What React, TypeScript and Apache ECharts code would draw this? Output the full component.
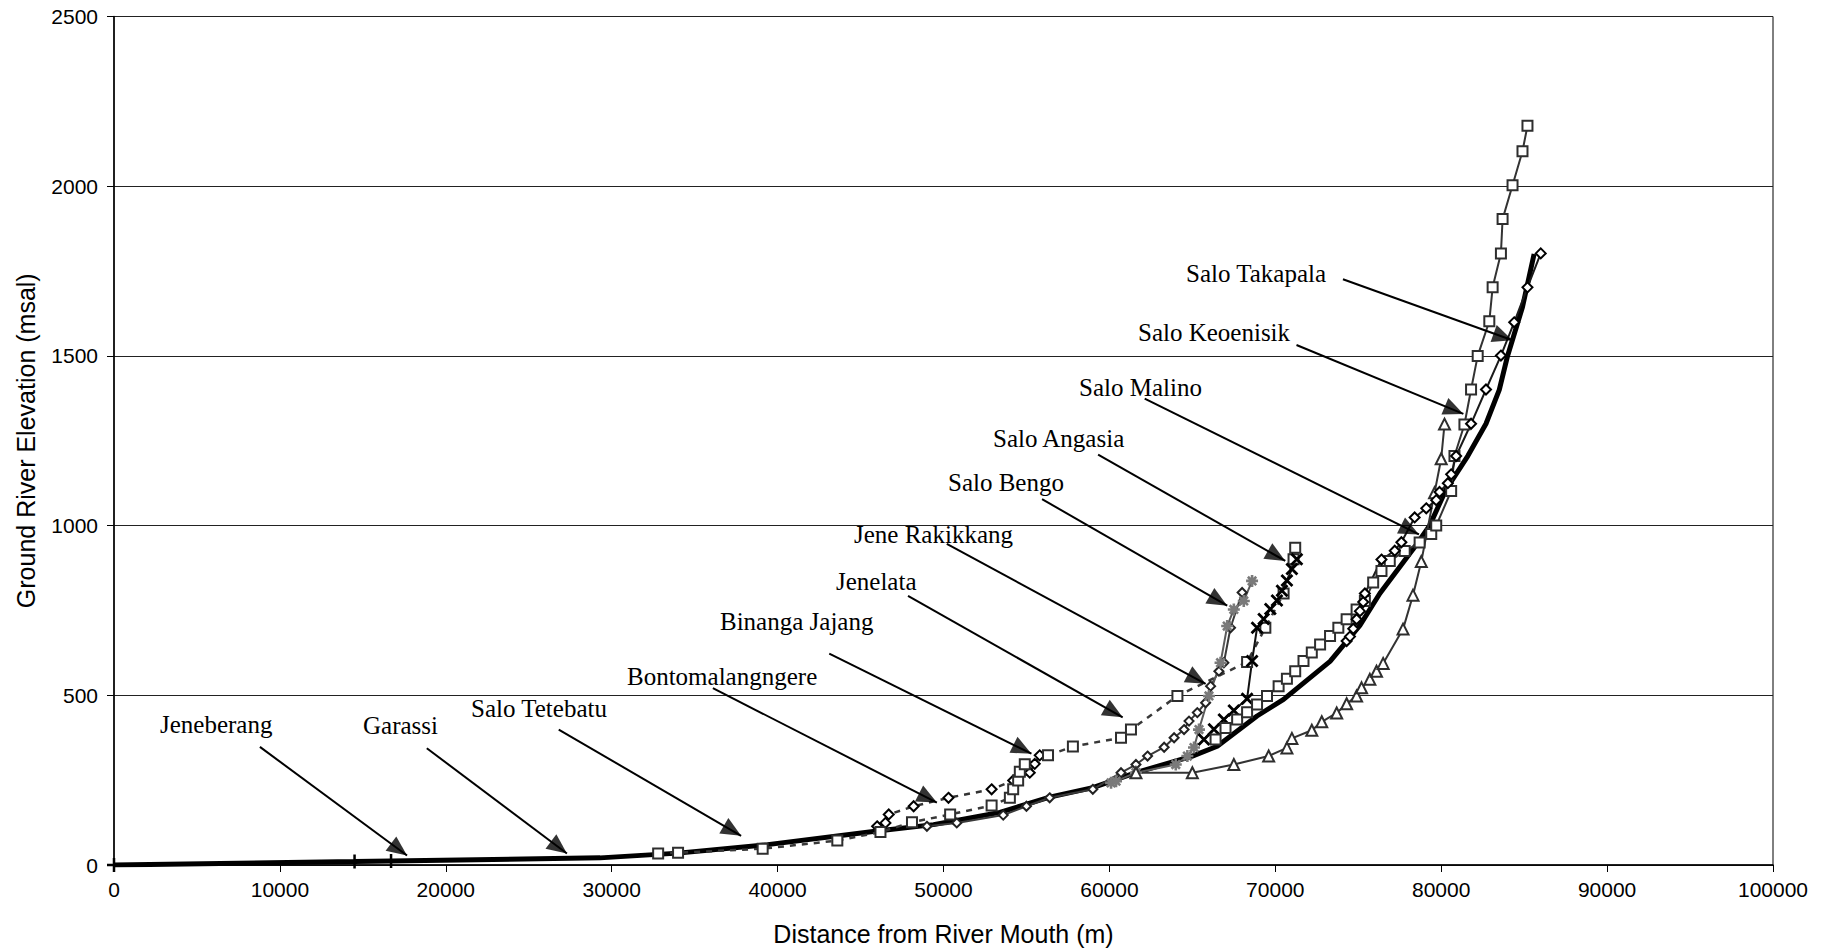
import React, { useEffect, useRef } from "react";
import * as echarts from "echarts";

type P = [number, number];

const xTickValues = [0, 10000, 20000, 30000, 40000, 50000, 60000, 70000, 80000, 90000, 100000];
const yTickValues = [0, 500, 1000, 1500, 2000, 2500];

// Jeneberang (main river) – first points carry "+" markers
const jeneberang: P[] = [
  [0, 0], [14500, 10], [16700, 12], [29300, 21], [34000, 35], [39400, 60], [46000, 100],
  [49400, 119], [53400, 155], [56400, 200], [59000, 228], [61600, 272], [65000, 321],
  [66500, 350], [68900, 439], [70500, 488], [73300, 600], [75100, 706], [76300, 800],
  [78300, 930], [79300, 1000], [80300, 1107], [81600, 1205], [82700, 1300], [83500, 1400],
  [84000, 1500], [84900, 1644], [85600, 1800],
];
const jeneberangMarked = 3;

const bontomalangngere: P[] = [
  [46000, 114], [46500, 124], [46700, 149], [48200, 173], [50300, 198], [52900, 223],
  [54200, 249], [55200, 272], [55500, 298], [55800, 323],
];

const jenelata: P[] = [
  [32800, 34], [34000, 36], [39100, 48], [43600, 72], [46200, 97], [48100, 126], [50400, 149],
  [52900, 175], [54000, 198], [54200, 223], [54500, 249], [54600, 275], [54900, 297],
  [56300, 323], [57800, 349], [60700, 375], [61300, 399], [64100, 498], [68300, 598],
  [69400, 699], [70500, 800], [71100, 901], [71200, 935],
];

const jeneRakikkang: P[] = [
  [49000, 114], [50800, 124], [53600, 147], [55000, 173], [56400, 198], [59000, 223],
  [60700, 272], [61600, 296], [62300, 321], [63300, 347], [63900, 375], [64500, 399],
  [64800, 424], [65300, 449], [65800, 478], [66100, 527], [66600, 571], [66900, 596],
  [67300, 699], [68000, 803],
];

const saloBengo: P[] = [
  [60100, 242], [60400, 247], [61600, 272], [64000, 296], [64700, 321], [65100, 346],
  [65400, 399], [66000, 498], [66700, 596], [67100, 704], [67500, 753], [68100, 778],
  [68600, 837],
];

const saloAngasia: P[] = [
  [65700, 370], [66300, 400], [66900, 429], [67500, 455], [68300, 490], [68600, 601],
  [68900, 699], [69300, 725], [69700, 754], [70100, 779], [70400, 808], [70700, 838],
  [71000, 872], [71300, 901],
];

const saloMalino: P[] = [
  [61600, 272], [65000, 272], [67500, 296], [69600, 321], [70700, 345], [71000, 373],
  [72200, 397], [72800, 422], [73700, 448], [74300, 475], [74900, 498], [75200, 522],
  [75700, 547], [76100, 571], [76500, 594], [77700, 695], [78300, 795], [78800, 894],
  [79600, 1097], [80000, 1197], [80200, 1299],
];

const saloTakapala: P[] = [
  [66400, 370], [67000, 404], [67700, 429], [68300, 450], [68900, 473], [69500, 498],
  [70200, 527], [70700, 549], [71200, 571], [71700, 601], [72200, 626], [72700, 650],
  [73300, 675], [73800, 699], [74300, 724], [74900, 753], [75400, 778], [75900, 832],
  [76400, 866], [76900, 896], [77800, 925], [78700, 950], [79400, 975], [79700, 1000],
  [80600, 1102], [80800, 1205], [81400, 1298], [81800, 1401], [82200, 1500], [82900, 1602],
  [83100, 1702], [83600, 1802], [83700, 1903], [84300, 2003], [84900, 2103], [85200, 2178],
];

const saloKeoenisik: P[] = [
  [74300, 660], [74500, 673], [74700, 696], [74900, 724], [75100, 748], [75300, 775],
  [75400, 800], [76400, 900], [77200, 926], [77600, 951], [78400, 1024], [79100, 1051],
  [79700, 1075], [79900, 1099], [80400, 1125], [80600, 1151], [80900, 1205], [81800, 1300],
  [82700, 1401], [83600, 1501], [84400, 1599], [85200, 1702], [86000, 1802],
];

// annotation labels and arrows (tail -> tip, data units)
const annotationNames = [
  "Salo Takapala", "Salo Keoenisik", "Salo Malino", "Salo Angasia", "Salo Bengo",
  "Jene Rakikkang", "Jenelata", "Binanga Jajang", "Bontomalangngere", "Salo Tetebatu",
  "Garassi", "Jeneberang",
];
const annotationLabelAt: P[] = [
  [1186, 273], [1138, 332], [1079, 387], [993, 438], [948, 482], [854, 534], [836, 581],
  [720, 621], [627, 676], [471, 708], [363, 725], [160, 724],
];
const arrowTails: P[] = [
  [74078, 1726], [71277, 1532], [62127, 1374], [59319, 1209], [55940, 1078], [50200, 946],
  [47860, 793], [43114, 623], [36100, 521], [26807, 399], [18855, 344], [8795, 348],
];
const arrowTips: P[] = [
  [84295, 1546], [81337, 1329], [78657, 974], [70600, 896], [67100, 764], [65800, 534],
  [60800, 435], [55300, 328], [49600, 184], [37800, 86], [27301, 34], [17663, 28],
];

const GRID = { left: 114, top: 16.5, width: 1659, height: 850 };
const X_MAX = 100000;
const Y_MAX = 2500;

const PLUS = "path://M5,0L5,10M0,5L10,5";
const CROSS = "path://M0,0L10,10M10,0L0,10";
const STAR = "path://M5,0L5,10M0,5L10,5M1.5,1.5L8.5,8.5M8.5,1.5L1.5,8.5";

export default function App() {
  const ref = useRef<HTMLDivElement>(null);

  useEffect(() => {
    if (!ref.current) return;
    const chart = echarts.init(ref.current, undefined, { renderer: "svg" });

    const sx = GRID.width / X_MAX;
    const sy = GRID.height / Y_MAX;
    const HEAD_LEN = 20;
    const HEAD_W = 18;
    const arrowLines = arrowTails.map((t, i) => [{ coord: t }, { coord: arrowTips[i] }]);
    const arrowHeads = arrowTails.map((t, i) => {
      const tip = arrowTips[i];
      const dxp = (tip[0] - t[0]) * sx;
      const dyp = (tip[1] - t[1]) * sy;
      const len = Math.hypot(dxp, dyp);
      const back = HEAD_LEN / 2;
      const c: P = [tip[0] - (back * dxp) / len / sx, tip[1] - (back * dyp) / len / sy];
      const phi = (Math.atan2(dyp, dxp) * 180) / Math.PI;
      return { value: c, symbolRotate: phi - 90 };
    });

    const lineSeries = (
      name: string,
      data: any[],
      opts: { color: string; width: number; dashed?: boolean; symbol: string; size: number; border: number; borderColor?: string; z?: number }
    ) => ({
      name,
      type: "line",
      data,
      z: opts.z ?? 3,
      symbol: opts.symbol,
      symbolSize: opts.size,
      showSymbol: true,
      lineStyle: { color: opts.color, width: opts.width, type: opts.dashed ? [6, 6] : "solid" },
      itemStyle: { color: opts.borderColor ?? opts.color, borderColor: opts.borderColor ?? opts.color, borderWidth: opts.border },
      emphasis: { disabled: true },
    });

    const mainData = jeneberang.map((p, i) =>
      i < jeneberangMarked ? { value: p, symbol: PLUS, symbolSize: 14 } : { value: p, symbol: "none" }
    );

    const option: any = {
      animation: false,
      backgroundColor: "#fff",
      grid: { ...GRID, show: true, borderColor: "#000", borderWidth: 1, backgroundColor: "transparent" },
      xAxis: {
        type: "value",
        min: 0,
        max: X_MAX,
        interval: xTickValues[1] - xTickValues[0],
        name: "Distance from River Mouth (m)",
        nameLocation: "middle",
        nameGap: 56,
        nameTextStyle: { fontFamily: "Liberation Sans, Arial", fontSize: 25, color: "#000" },
        axisLine: { show: true, lineStyle: { color: "#000", width: 1.5 } },
        axisTick: { show: true, length: 7, lineStyle: { color: "#000" } },
        axisLabel: {
          fontFamily: "Liberation Sans, Arial",
          fontSize: 21,
          color: "#000",
          margin: 14,
          formatter: (v: number) => String(v),
        },
        splitLine: { show: false },
      },
      yAxis: {
        type: "value",
        min: 0,
        max: Y_MAX,
        interval: yTickValues[1] - yTickValues[0],
        name: "Ground River Elevation (msal)",
        nameLocation: "middle",
        nameRotate: 90,
        nameGap: 76,
        nameTextStyle: { fontFamily: "Liberation Sans, Arial", fontSize: 25, color: "#000" },
        axisLine: { show: true, lineStyle: { color: "#000", width: 1.5 } },
        axisTick: { show: true, length: 7, lineStyle: { color: "#000" } },
        axisLabel: {
          fontFamily: "Liberation Sans, Arial",
          fontSize: 21,
          color: "#000",
          margin: 16,
          formatter: (v: number) => String(v),
        },
        splitLine: { show: true, lineStyle: { color: "#222", width: 1 } },
      },
      series: [
        {
          name: "Jeneberang",
          type: "line",
          data: mainData,
          z: 2,
          symbol: "none",
          lineStyle: { color: "#000", width: 5 },
          itemStyle: { color: "#000", borderColor: "#000", borderWidth: 2.5 },
          emphasis: { disabled: true },
          markLine: {
            silent: true,
            symbol: ["none", "none"],
            label: { show: false },
            lineStyle: { color: "#000", width: 2, type: "solid" },
            emphasis: { disabled: true },
            data: arrowLines,
          },
        },
        lineSeries("Bontomalangngere", bontomalangngere, { color: "#333", width: 2.5, dashed: true, symbol: "emptyDiamond", size: 10, border: 2.6, borderColor: "#000" }),
        lineSeries("Jenelata", jenelata, { color: "#383838", width: 2.5, dashed: true, symbol: "emptyRect", size: 10, border: 2.6, borderColor: "#2e2e2e" }),
        lineSeries("Jene Rakikkang", jeneRakikkang, { color: "#3a3a3a", width: 2, symbol: "emptyDiamond", size: 9, border: 2.4, borderColor: "#222" }),
        lineSeries("Salo Bengo", saloBengo, { color: "#5a5a5a", width: 2, symbol: STAR, size: 12, border: 2.6, borderColor: "#7a7a7a" }),
        lineSeries("Salo Angasia", saloAngasia, { color: "#111", width: 2, symbol: CROSS, size: 11, border: 2.8, borderColor: "#000" }),
        lineSeries("Salo Malino", saloMalino, { color: "#333", width: 2, symbol: "emptyTriangle", size: 11, border: 2.4, borderColor: "#2e2e2e" }),
        lineSeries("Salo Takapala", saloTakapala, { color: "#333", width: 2, symbol: "emptyRect", size: 10, border: 2.6, borderColor: "#2e2e2e" }),
        lineSeries("Salo Keoenisik", saloKeoenisik, { color: "#1a1a1a", width: 2, symbol: "emptyDiamond", size: 10, border: 2.6, borderColor: "#000" }),
        {
          name: "Arrow heads",
          type: "scatter",
          data: arrowHeads,
          z: 10,
          silent: true,
          symbol: "triangle",
          symbolSize: [HEAD_W, HEAD_LEN],
          itemStyle: { color: "#000" },
          emphasis: { disabled: true },
        },
      ],
      graphic: annotationNames.map((name, i) => ({
        type: "text",
        x: annotationLabelAt[i][0],
        y: annotationLabelAt[i][1],
        z: 100,
        silent: true,
        style: {
          text: name,
          font: '25px "Liberation Serif", "Times New Roman", serif',
          fill: "#000",
          verticalAlign: "middle",
          align: "left",
        },
      })),
    };

    chart.setOption(option);
    return () => chart.dispose();
  }, []);

  return (
    <div
      ref={ref}
      style={{ position: "absolute", left: 0, top: 0, width: 1832, height: 951, background: "#fff" }}
    />
  );
}
